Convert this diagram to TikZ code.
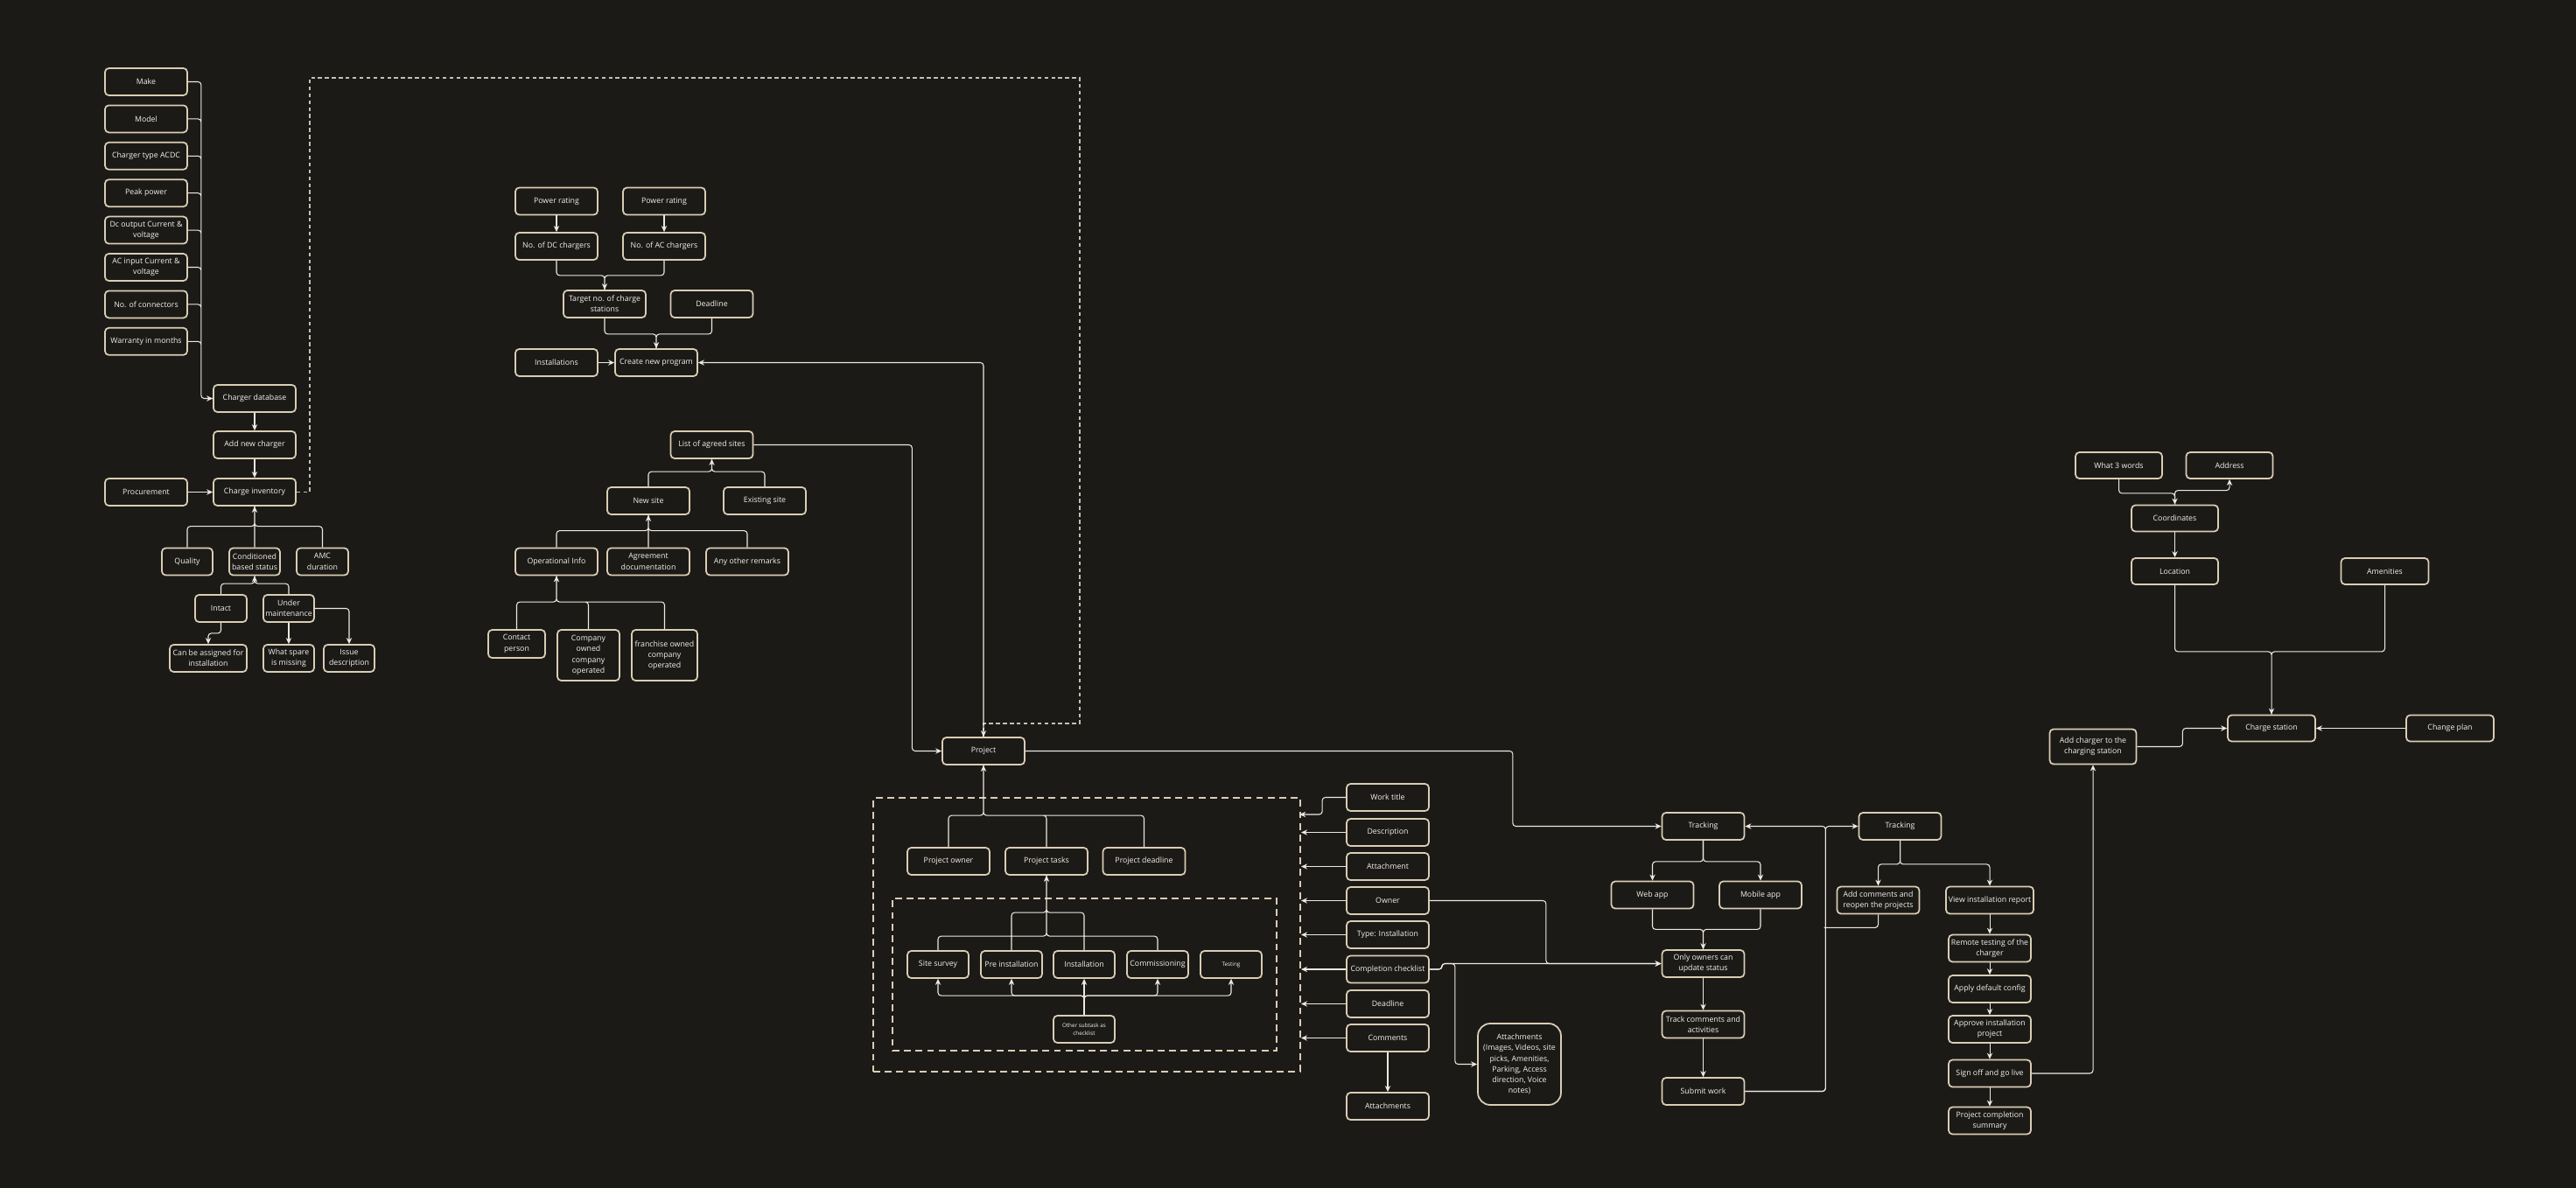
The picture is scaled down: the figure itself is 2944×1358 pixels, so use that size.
\documentclass[tikz,border=0pt]{standalone}
\usepackage{fontspec}
\setmainfont{Open Sans}
\usepackage{tikz}
\usetikzlibrary{arrows.meta}
\definecolor{bg}{HTML}{1C1A17}
\definecolor{edge}{HTML}{D9CDB5}
\definecolor{wirecol}{HTML}{EDE9E1}
\definecolor{ink}{HTML}{F4F1EC}
\definecolor{dashcol}{HTML}{C4BFB6}

\begin{document}
\begin{tikzpicture}[x=0.02cm,y=-0.02cm,>={Stealth[length=4pt,width=3.6pt]},
box/.style={draw=edge,line width=1pt,rounded corners=2.5pt,fill=bg,text=ink,align=center,inner sep=0.5pt,minimum width=1.88cm,minimum height=0.62cm,font=\fontsize{5}{7}\selectfont},
tiny/.style={font=\fontsize{3.6}{5}\selectfont},
conn/.style={draw=wirecol,line width=0.6pt,rounded corners=2pt},
grp/.style={draw=edge,line width=1.2pt,dash pattern=on 4.5pt off 3pt,minimum width=0pt,minimum height=0pt},
link/.style={draw=dashcol,line width=0.7pt,dash pattern=on 2.5pt off 2pt}]
\fill[bg](0,0)rectangle(2944,1358);
\useasboundingbox(0,0)rectangle(2944,1358);
% charger inventory
\node[box](make)at(167,93.5){Make};
\node[box](model)at(167,135.9){Model};
\node[box](chtype)at(167,178.3){Charger type ACDC};
\node[box](peak)at(167,220.7){Peak power};
\node[box](dcout)at(167,263.1){Dc output Current \&\\voltage};
\node[box](acin)at(167,305.5){AC input Current \&\\voltage};
\node[box](nconn)at(167,347.9){No. of connectors};
\node[box](warranty)at(167,390.3){Warranty in months};
\node[box](chdb)at(291,455.5){Charger database};
\node[box](addchg)at(291,508.5){Add new charger};
\node[box](inventory)at(291,562.5){Charge inventory};
\node[box](procure)at(167,562.5){Procurement};
\node[box,minimum width=1.16cm](quality)at(214,642){Quality};
\node[box,minimum width=1.16cm](condstat)at(291,642){Conditioned\\based status};
\node[box,minimum width=1.18cm](amc)at(368.5,642){AMC\\duration};
\node[box,minimum width=1.18cm](intact)at(252.5,695.5){Intact};
\node[box,minimum width=1.16cm](undermaint)at(330,695.5){Under\\maintenance};
\node[box,minimum width=1.76cm](assign)at(238,752.5){Can be assigned for\\installation};
\node[box,minimum width=1.16cm](spare)at(330,752.5){What spare\\is missing};
\node[box,minimum width=1.16cm](issue)at(399,752.5){Issue\\description};
\draw[conn,->](make.east)--++(15,0)|-(chdb.west)(model.east)--++(15,0)|-(chdb.west)
(chtype.east)--++(15,0)|-(chdb.west)(peak.east)--++(15,0)|-(chdb.west)
(dcout.east)--++(15,0)|-(chdb.west)(acin.east)--++(15,0)|-(chdb.west)
(nconn.east)--++(15,0)|-(chdb.west)(warranty.east)--++(15,0)|-(chdb.west);
\draw[conn,->](chdb)--(addchg);
\draw[conn,->](addchg)--(inventory);
\draw[conn,->](procure)--(inventory);
\draw[conn,->](quality.north)--++(0,-24)-|(inventory.south)(amc.north)--++(0,-24)-|(inventory.south)(condstat.north)--(inventory.south);
\draw[conn,->](intact.north)--++(0,-12)-|(condstat.south)(undermaint.north)--++(0,-12)-|(condstat.south);
\draw[conn,->](intact.south)--++(0,12)-|(assign.north);
\draw[conn,->](undermaint.south)--(spare.north);
\draw[conn,->](undermaint.east)-|(issue.north);
% program
\node[box](pr1)at(636,230){Power rating};
\node[box](pr2)at(759,230){Power rating};
\node[box](dcnum)at(636,281.5){No. of DC chargers};
\node[box](acnum)at(759,281.5){No. of AC chargers};
\node[box](target)at(691,347.5){Target no. of charge\\stations};
\node[box](deadlineA)at(813.5,347.5){Deadline};
\node[box](newprog)at(750,414.5){Create new program};
\node[box](installs)at(636,414.5){Installations};
\draw[conn,->](pr1)--(dcnum);
\draw[conn,->](pr2)--(acnum);
\draw[conn,->](dcnum.south)--++(0,17)-|(target.north)(acnum.south)--++(0,17)-|(target.north);
\draw[conn,->](target.south)--++(0,18)-|(newprog.north)(deadlineA.south)--++(0,18)-|(newprog.north);
\draw[conn,->](installs)--(newprog);
% sites
\node[box](agreed)at(813.5,508.5){List of agreed sites};
\node[box](newsite)at(741,572.5){New site};
\node[box](oldsite)at(874,572.5){Existing site};
\node[box](opinfo)at(636,642){Operational Info};
\node[box](agreement)at(741,642){Agreement\\documentation};
\node[box](remarks)at(854,642){Any other remarks};
\node[box,minimum width=1.3cm,minimum height=0.64cm](contact)at(590.5,736){Contact\\person};
\node[box,minimum width=1.42cm,minimum height=1.16cm](coowned)at(672.5,749){Company\\owned\\company\\operated};
\node[box,minimum width=1.5cm,minimum height=1.16cm](franchise)at(759.5,749){franchise owned\\company\\operated};
\draw[conn,->](newsite.north)--++(0,-17)-|(agreed.south)(oldsite.north)--++(0,-17)-|(agreed.south);
\draw[conn,->](opinfo.north)--++(0,-19)-|(newsite.south)(remarks.north)--++(0,-19)-|(newsite.south)(agreement.north)--(newsite.south);
\draw[conn,->](contact.north)--++(0,-31)-|(opinfo.south)(franchise.north)--++(0,-31)-|(opinfo.south)(coowned.north)--++(0,-31)-|(opinfo.south);
% project
\node[box](project)at(1124,858.5){Project};
\draw[link](inventory.east)-|(354,89)-|(1234,827)-|(project.north);
\draw[conn,<->](newprog.east)-|(project.north);
\draw[conn,->](agreed.east)--++(181,0)|-(project.west);
\node[grp,minimum width=9.76cm,minimum height=6.26cm](outer)at(1242,1068.5){};
\node[grp,minimum width=8.78cm,minimum height=3.48cm](inner)at(1239.5,1114){};
\node[box](powner)at(1084,984.5){Project owner};
\node[box](ptasks)at(1196,984.5){Project tasks};
\node[box](pdeadline)at(1307.5,984.5){Project deadline};
\node[box,minimum width=1.4cm](survey)at(1072,1102.5){Site survey};
\node[box,minimum width=1.4cm](preinst)at(1156,1102.5){Pre installation};
\node[box,minimum width=1.4cm](install)at(1239,1102.5){Installation};
\node[box,minimum width=1.4cm](commiss)at(1323,1102.5){Commissioning};
\node[box,tiny,minimum width=1.4cm](testing)at(1407,1102.5){Testing};
\node[box,tiny,minimum width=1.4cm](subtask)at(1239,1176.5){Other subtask as\\checklist};
\draw[conn,->](powner.north)--++(0,-36)-|(project.south)(pdeadline.north)--++(0,-36)-|(project.south)(ptasks.north)--++(0,-36)-|(project.south);
\draw[conn,->](survey.north)--++(0,-16)-|(ptasks.south)(commiss.north)--++(0,-16)-|(ptasks.south)
(preinst.north)--++(0,-43)-|(ptasks.south)(install.north)--++(0,-43)-|(ptasks.south);
\draw[conn,->](subtask.north)--++(0,-22)-|(survey.south);
\draw[conn,->](subtask.north)--++(0,-22)-|(preinst.south);
\draw[conn,->](subtask.north)--(install.south);
\draw[conn,->](subtask.north)--++(0,-22)-|(commiss.south);
\draw[conn,->](subtask.north)--++(0,-22)-|(testing.south);
% work item fields
\node[box](worktitle)at(1586,911.5){Work title};
\node[box](descr)at(1586,951.5){Description};
\node[box](attach)at(1586,990.5){Attachment};
\node[box](owner)at(1586,1029.5){Owner};
\node[box](wtype)at(1586,1068.5){Type: Installation};
\node[box](checklist)at(1586,1108){Completion checklist};
\node[box](deadlineB)at(1586,1147.5){Deadline};
\node[box](comments)at(1586,1186.5){Comments};
\node[box](attachs)at(1586,1264.5){Attachments};
\node[box,rounded corners=8pt,minimum width=1.9cm,minimum height=1.86cm](attbig)at(1736.5,1216.5){Attachments\\(Images, Videos, site\\picks, Amenities,\\Parking, Access\\direction, Voice\\notes)};
\draw[conn,->](worktitle.west)--++(-27,0)--++(0,19.5)--++(-26,0);
\draw[conn,->](descr.west)--(descr.west-|outer.east);
\draw[conn,->](attach.west)--(attach.west-|outer.east);
\draw[conn,->](owner.west)--(owner.west-|outer.east);
\draw[conn,->](wtype.west)--(wtype.west-|outer.east);
\draw[conn,->](checklist.west)--(checklist.west-|outer.east);
\draw[conn,->](deadlineB.west)--(deadlineB.west-|outer.east);
\draw[conn,->](comments.west)--(comments.west-|outer.east);
\draw[conn,->](comments)--(attachs);
% tracking
\node[box](trackA)at(1946.5,944.5){Tracking};
\node[box](webapp)at(1888.5,1023){Web app};
\node[box](mobapp)at(2012,1023){Mobile app};
\node[box](owners)at(1946.5,1101.5){Only owners can\\update status};
\node[box](trackcom)at(1946.5,1171){Track comments and\\activities};
\node[box](submit)at(1946.5,1247.5){Submit work};
\node[box](trackB)at(2171.5,944.5){Tracking};
\node[box](addcom)at(2146.5,1029){Add comments and\\reopen the projects};
\node[box,minimum width=2cm](viewrep)at(2274,1029){View installation report};
\node[box](remote)at(2274,1084){Remote testing of the\\charger};
\node[box](defcfg)at(2274,1130.5){Apply default config};
\node[box](approve)at(2274,1176.5){Approve installation\\project};
\node[box](signoff)at(2274,1227){Sign off and go live};
\node[box](summary)at(2274,1281){Project completion\\summary};
\draw[conn,->](owner.east)--++(133,0)|-(owners.west);
\draw[conn,->](checklist.east)--++(14,0)--++(0,-6.5)--(owners.west);
\draw[conn,->](checklist.east)--++(14,0)--++(0,-6.5)--++(15,0)|-(attbig.west);
\draw[conn,->](project.east)--++(557,0)|-(trackA.west);
\draw[conn,->](trackA.south)--++(0,24)-|(webapp.north);
\draw[conn,->](trackA.south)--++(0,24)-|(mobapp.north);
\draw[conn,->](webapp.south)--++(0,23)-|(owners.north)(mobapp.south)--++(0,23)-|(owners.north);
\draw[conn,->](owners)--(trackcom);
\draw[conn,->](trackcom)--(submit);
\draw[conn,->](submit.east)--++(92,0)|-(trackA.east);
\draw[conn,->](submit.east)--++(92,0)|-(trackB.west);
\draw[conn](addcom.south)--++(0,15)--++(-62,0);
\draw[conn,->](trackB.south)--++(0,27)-|(addcom.north);
\draw[conn,->](trackB.south)--++(0,27)-|(viewrep.north);
\draw[conn,->](viewrep)--(remote);
\draw[conn,->](remote)--(defcfg);
\draw[conn,->](defcfg)--(approve);
\draw[conn,->](approve)--(signoff);
\draw[conn,->](signoff)--(summary);
% charge station
\node[box,minimum width=1.98cm,minimum height=0.6cm](w3w)at(2421.5,532){What 3 words};
\node[box,minimum width=1.98cm,minimum height=0.6cm](address)at(2548,532){Address};
\node[box,minimum width=1.98cm,minimum height=0.6cm](coords)at(2485.5,592.5){Coordinates};
\node[box,minimum width=1.98cm,minimum height=0.6cm](location)at(2485.5,653){Location};
\node[box,minimum width=2cm,minimum height=0.6cm](amenities)at(2725.5,653){Amenities};
\node[box,minimum width=2cm,minimum height=0.6cm](station)at(2596,832.5){Charge station};
\node[box,minimum width=2cm,minimum height=0.6cm](chplan)at(2800,832.5){Change plan};
\node[box,minimum width=1.98cm,minimum height=0.8cm](addtost)at(2392,853.5){Add charger to the\\charging station};
\draw[conn,->](w3w.south)--++(0,16)-|(coords.north);
\draw[conn,->](coords.north)--++(0,-16)-|(address.south);
\draw[conn,->](coords)--(location);
\draw[conn,->](location.south)--++(0,76)-|(station.north)(amenities.south)--++(0,76)-|(station.north);
\draw[conn,->](chplan)--(station);
\draw[conn,->](addtost.east)--++(52,0)|-(station.west);
\draw[conn,->](signoff.east)-|(addtost.south);
\end{tikzpicture}
\end{document}
